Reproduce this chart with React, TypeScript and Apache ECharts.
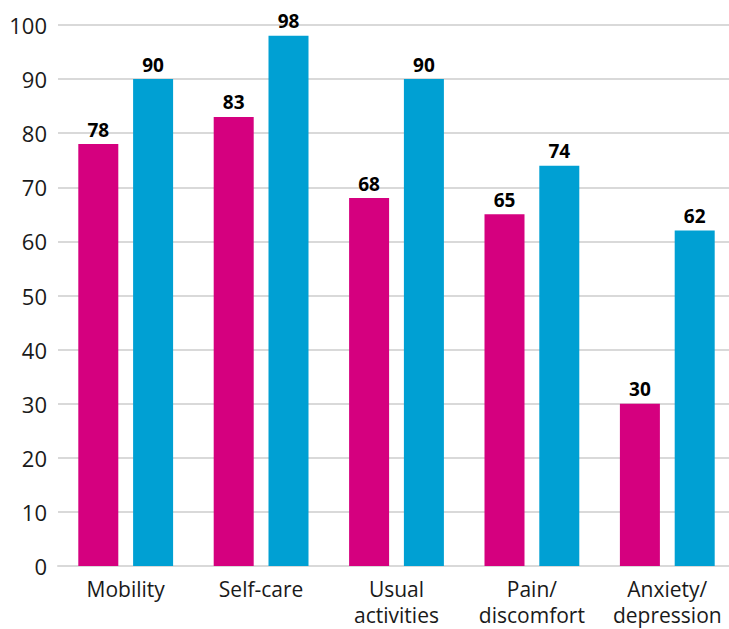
import React, { useEffect, useRef } from "react";
import * as echarts from "echarts";

const categories = ["Mobility", "Self-care", "Usual\nactivities", "Pain/\ndiscomfort", "Anxiety/\ndepression"];
const seriesA = [78, 83, 68, 65, 30];
const seriesB = [90, 98, 90, 74, 62];
const yTicks = { min: 0, max: 100, interval: 10 };

const FONT = "'Open Sans', 'Noto Sans', sans-serif";

export default function App() {
  const ref = useRef<HTMLDivElement>(null);
  useEffect(() => {
    const chart = echarts.init(ref.current!, null, { renderer: "svg" });
    const labelStyle = {
      show: true,
      position: "top" as const,
      distance: 5,
      color: "#000",
      fontFamily: FONT,
      fontWeight: "bold" as const,
      fontSize: 19,
    };
    chart.setOption({
      animation: false,
      grid: { left: 58, right: 0, top: 25, bottom: 63, containLabel: false },
      xAxis: {
        type: "category",
        data: categories,
        axisLine: { lineStyle: { color: "#d9d9d9", width: 2 } },
        axisTick: { show: false },
        axisLabel: {
          color: "#1a1a1a",
          fontFamily: FONT,
          fontSize: 21,
          lineHeight: 26,
          margin: 10,
          interval: 0,
        },
      },
      yAxis: {
        type: "value",
        min: yTicks.min,
        max: yTicks.max,
        interval: yTicks.interval,
        axisLine: { show: false },
        axisTick: { show: false },
        splitLine: { lineStyle: { color: "#d9d9d9", width: 2 } },
        axisLabel: {
          color: "#1a1a1a",
          fontFamily: FONT,
          fontSize: 22,
          margin: 11,
        },
      },
      series: [
        {
          type: "bar",
          data: seriesA,
          barWidth: 40,
          barGap: "37%",
          itemStyle: { color: "#d5007f" },
          label: labelStyle,
        },
        {
          type: "bar",
          data: seriesB,
          barWidth: 40,
          itemStyle: { color: "#00a0d3" },
          label: labelStyle,
        },
      ],
    });
    return () => chart.dispose();
  }, []);
  return (
    <div
      ref={ref}
      style={{ position: "absolute", left: 0, top: 0, width: 735, height: 629, background: "#fff" }}
    />
  );
}
